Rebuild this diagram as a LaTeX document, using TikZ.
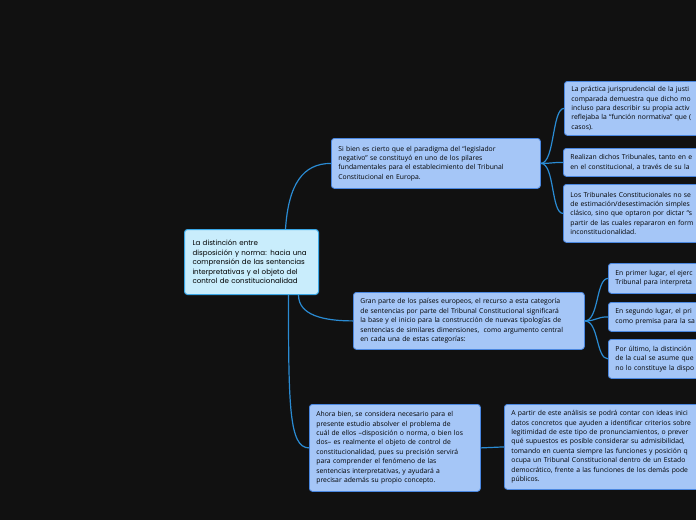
\documentclass[tikz,border=0pt]{standalone}
\usepackage{fontspec}
\setmainfont{Open Sans}
\newfontfamily\topicfont{Poppins}
\usepackage{tikz}
\usetikzlibrary{positioning,calc}

\definecolor{bgdark}{HTML}{111111}
\definecolor{topicfill}{HTML}{C9EDFC}
\definecolor{topicline}{HTML}{3AA7E6}
\definecolor{boxfill}{HTML}{A5C6F7}
\definecolor{boxline}{HTML}{4A87E0}
\definecolor{linkblue}{HTML}{2A8BD3}

\begin{document}
\begin{tikzpicture}[x=1pt,y=-1pt,
            topic/.style={draw=topicline,fill=topicfill,line width=1pt,rounded corners=3pt,anchor=north west,align=left,inner xsep=8pt,font=\topicfont\fontsize{7.1}{9.5}\selectfont},
            branch/.style={draw=boxline,fill=boxfill,line width=0.8pt,rounded corners=3pt,anchor=north west,align=left,inner xsep=7pt,font=\fontsize{6.8}{9.4}\selectfont},
            link/.style={draw=linkblue,line width=1.2pt}
        ]
            \useasboundingbox (0,0) rectangle (696,520);
            \clip (0,0) rectangle (696,520);
            \fill[bgdark] (0,0) rectangle (696,520);

            % central topic
            \node[topic, text width=118, minimum height=65] (cen) at (184,229) {La distinción entre\\disposición y norma: hacia una\\comprensión de las sentencias\\interpretativas y el objeto del\\control de constitucionalidad};

            % first branch
            \node[branch, text width=195, minimum height=50] (sibien) at (331,138) {Si bien es cierto que el paradigma del “legislador\\negativo” se constituyó en uno de los pilares\\fundamentales para el establecimiento del Tribunal\\Constitucional en Europa.};
            \node[branch, text width=200, minimum height=54] (practica) at (564,81) {La práctica jurisprudencial de la justi\\comparada demuestra que dicho mo\\incluso para describir su propia activ\\reflejaba la “función normativa” que (\\casos).};
            \node[branch, text width=200, minimum height=28] (realizan) at (563,148) {Realizan dichos Tribunales, tanto en e\\en el constitucional, a través de su la};
            \node[branch, text width=200, minimum height=58] (tribunales) at (563,184) {Los Tribunales Constitucionales no se\\de estimación/desestimación simples\\clásico, sino que optaron por dictar “s\\partir de las cuales repararon en form\\inconstitucionalidad.};

            % second branch
            \node[branch, text width=217, minimum height=57] (granparte) at (353,292) {Gran parte de los países europeos, el recurso a esta categoría\\de sentencias por parte del Tribunal Constitucional significará\\la base y el inicio para la construcción de nuevas tipologías de\\sentencias de similares dimensiones,\ \ como argumento central\\en cada una de estas categorías:};
            \node[branch, text width=200, minimum height=30] (primer) at (608,263) {En primer lugar, el ejerc\\Tribunal para interpreta};
            \node[branch, text width=200, minimum height=29] (segundo) at (608,302) {En segundo lugar, el pri\\como premisa para la sa};
            \node[branch, text width=200, minimum height=39] (ultimo) at (608,339) {Por último, la distinción\\de la cual se asume que\\no lo constituye la dispo};

            % third branch
            \node[branch, text width=157, minimum height=87] (ahora) at (309,404) {Ahora bien, se considera necesario para el\\presente estudio absolver el problema de\\cuál de ellos –disposición o norma, o bien los\\dos– es realmente el objeto de control de\\constitucionalidad, pues su precisión servirá\\para comprender el fenómeno de las\\sentencias interpretativas, y ayudará a\\precisar además su propio concepto.};
            \node[branch, text width=200, minimum height=85] (apartir) at (504,404) {A partir de este análisis se podrá contar con ideas inici\\datos concretos que ayuden a identificar criterios sobre\\legitimidad de este tipo de pronunciamientos, o prever\\qué supuestos es posible considerar su admisibilidad,\\tomando en cuenta siempre las funciones y posición q\\ocupa un Tribunal Constitucional dentro de un Estado\\democrático, frente a las funciones de los demás pode\\públicos.};

            % connectors
            \draw[link] ([xshift=34pt]cen.north) .. controls +(3,-45) and +(-28,0) .. (sibien.west);
            \draw[link] ([xshift=47pt]cen.south) .. controls +(0,20) and +(-30,0) .. (granparte.west);
            \draw[link] ([xshift=37pt]cen.south) .. controls +(0,110) and +(-20,0) .. (ahora.west);

            \draw[link] (sibien.east) .. controls +(14,0) and +(-12,0) .. (practica.west);
            \draw[link] (sibien.east) .. controls +(12,0) and +(-12,0) .. (realizan.west);
            \draw[link] (sibien.east) .. controls +(14,0) and +(-12,0) .. (tribunales.west);

            \draw[link] (granparte.east) .. controls +(14,0) and +(-12,0) .. (primer.west);
            \draw[link] (granparte.east) .. controls +(12,0) and +(-12,0) .. (segundo.west);
            \draw[link] (granparte.east) .. controls +(14,0) and +(-12,0) .. (ultimo.west);

            \draw[link] (ahora.east) -- (apartir.west);
        \end{tikzpicture}
\end{document}
